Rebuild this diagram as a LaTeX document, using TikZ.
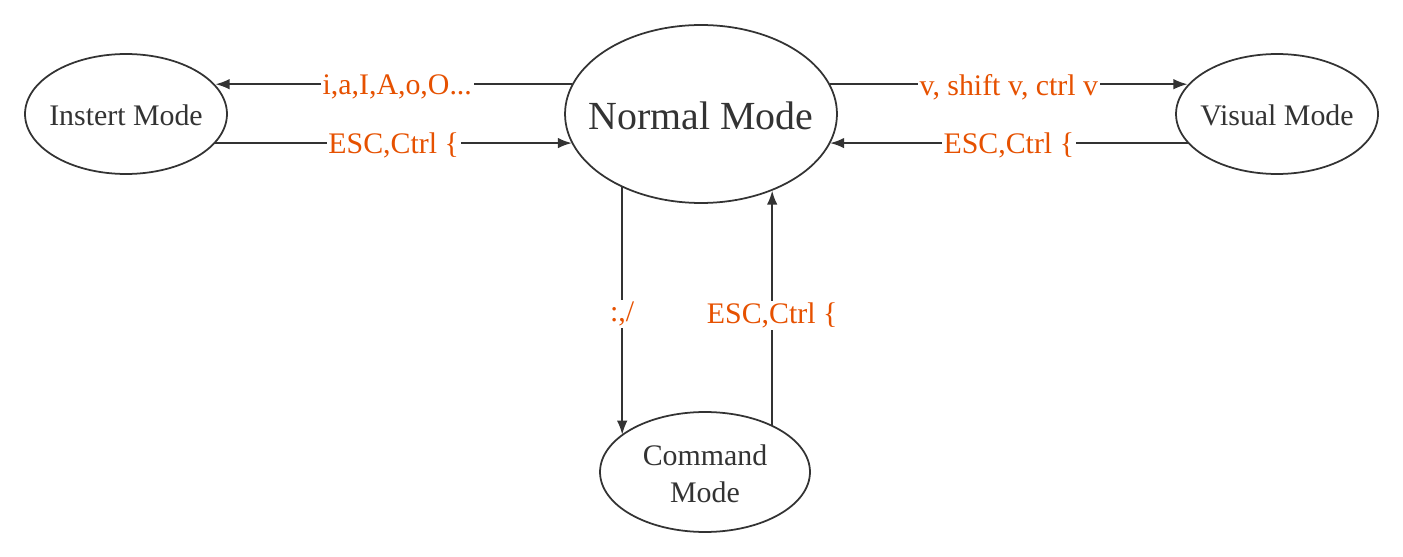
\documentclass[tikz,border=0pt]{standalone}
\usepackage{fontspec}
\setmainfont{Liberation Serif}
\usetikzlibrary{shapes.geometric,arrows.meta}
\tikzset{
  mode/.style={ellipse,draw=lcol,line width=1pt,inner sep=0pt},
  modetext/.style={text=tcol,font=\fontsize{17}{21}\selectfont,align=center,yshift=-1pt},
  keys/.style={fill=white,inner sep=1pt,text=kcol,font=\fontsize{17}{21}\selectfont,yshift=-1.5pt}
}

\begin{document}
\begin{tikzpicture}[x=0.02cm,y=-0.02cm]
    % Local styling definitions
    \tikzset{>={Latex[length=8pt,width=6pt]}} % set arrow head style

    % Color definitions
    \definecolor{lcol}{HTML}{333333}
    \definecolor{tcol}{HTML}{333333}
    \definecolor{kcol}{HTML}{E65100}

    % TikZ style definitions
    \tikzstyle{switch}=[->,line width=1pt,lcol]

    \useasboundingbox (0,0) rectangle (1403,557);

    % Modes
    \node[mode,minimum width=4.04cm,minimum height=2.4cm,
          label={[modetext]center:Instert Mode}] (instert) at (126,114) {};
    \node[mode,minimum width=5.44cm,minimum height=3.56cm,
          label={[modetext,font=\fontsize{22.7}{26}\selectfont]center:Normal Mode}] (normal) at (701,114) {};
    \node[mode,minimum width=4.04cm,minimum height=2.4cm,
          label={[modetext]center:Visual Mode}] (visual) at (1277,114) {};
    \node[mode,minimum width=4.2cm,minimum height=2.4cm,
          label={[modetext]center:Command\\Mode}] (command) at (705,472) {};

    % Switches
    \draw[switch] (normal.167) -- (instert.18 |- normal.167) node[keys,pos=0.49] {i,a,I,A,o,O...};
    \draw[switch] (instert.-18) -- (normal.193 |- instert.-18) node[keys,midway] {ESC,Ctrl \{};
    \draw[switch] (normal.13) -- (visual.162 |- normal.13) node[keys,midway] {v, shift v, ctrl v};
    \draw[switch] (visual.198) -- (normal.-13 |- visual.198) node[keys,midway] {ESC,Ctrl \{};
    \draw[switch] (normal.223) -- (normal.223 |- command.156) node[keys,midway] {:,/};
    \draw[switch] (command.35) -- (command.35 |- normal.-47) node[keys,pos=0.48] {ESC,Ctrl \{};

\end{tikzpicture}
\end{document}
